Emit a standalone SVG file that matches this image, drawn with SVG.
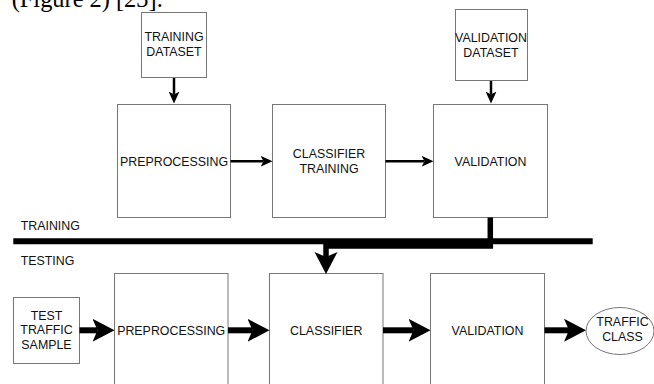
<svg xmlns="http://www.w3.org/2000/svg" width="654" height="384" viewBox="0 0 654 384">
<defs>
<style>
.box{fill:#fff;stroke:#777;stroke-width:1}
.t{font-family:"Liberation Sans",Arial,sans-serif;font-size:12.4px;fill:#111;text-anchor:middle}
.lbl{font-family:"Liberation Sans",Arial,sans-serif;font-size:12.4px;fill:#111}
.thin{fill:none;stroke:#000;stroke-width:2.5}
.thick{fill:none;stroke:#000;stroke-width:6}
</style>
<marker id="ah" markerUnits="userSpaceOnUse" markerWidth="12" markerHeight="11" refX="3" refY="5.5" orient="auto">
<path d="M0,0 L12,5.5 L0,11 L3,5.5 Z" fill="#000"/>
</marker>
<marker id="AH" markerUnits="userSpaceOnUse" markerWidth="22" markerHeight="24" refX="5" refY="12" orient="auto">
<path d="M0,0.5 L22,12 L0,23.5 L5,12 Z" fill="#000"/>
</marker>
</defs>
<rect width="654" height="384" fill="#fff"/>
<text x="11.7" y="6.5" font-family="'Liberation Serif','Times New Roman',serif" font-size="24.4" fill="#000">(Figure 2) [23].</text>

<g id="training-dataset"><rect class="box" x="141.5" y="12.5" width="65" height="65"/><text class="t" x="174" y="41">TRAINING</text><text class="t" x="174" y="56">DATASET</text></g>
<g id="validation-dataset"><rect class="box" x="455.5" y="9.5" width="72" height="71"/><text class="t" x="491" y="41.5">VALIDATION</text><text class="t" x="491" y="56.5">DATASET</text></g>
<g id="preprocessing-train"><rect class="box" x="117.5" y="104.5" width="113" height="113"/><text class="t" x="174" y="165.5">PREPROCESSING</text></g>
<g id="classifier-training"><rect class="box" x="272.5" y="104.5" width="113" height="113"/><text class="t" x="329" y="158.3">CLASSIFIER</text><text class="t" x="329" y="172.9">TRAINING</text></g>
<g id="validation-train"><rect class="box" x="433.5" y="104.5" width="114" height="113"/><text class="t" x="490.5" y="165.5">VALIDATION</text></g>

<g id="section-labels"><text class="lbl" x="20.7" y="230">TRAINING</text><text class="lbl" x="20.7" y="265">TESTING</text></g>
<g id="divider"><line x1="13.3" y1="241.3" x2="592.7" y2="241.3" stroke="#000" stroke-width="6"/></g>

<g id="test-traffic-sample"><rect class="box" x="13.5" y="297.5" width="66" height="66"/><text class="t" x="46.5" y="319.5">TEST</text><text class="t" x="46.5" y="334.3">TRAFFIC</text><text class="t" x="46.5" y="349.1">SAMPLE</text></g>
<g id="preprocessing-test"><rect class="box" x="114.5" y="273.5" width="113.5" height="130"/><text class="t" x="171.2" y="335">PREPROCESSING</text></g>
<g id="classifier"><rect class="box" x="269.5" y="273.5" width="113.5" height="130"/><text class="t" x="326.2" y="335">CLASSIFIER</text></g>
<g id="validation-test"><rect class="box" x="430.5" y="273.5" width="114" height="130"/><text class="t" x="487.5" y="335">VALIDATION</text></g>
<g id="traffic-class"><ellipse cx="620" cy="331" rx="34" ry="23.5" fill="#fff" stroke="#777" stroke-width="1"/><text class="t" x="622.5" y="326">TRAFFIC</text><text class="t" x="622.5" y="341">CLASS</text></g>

<g id="connectors">
<line class="thin" x1="174" y1="78" x2="174" y2="94.5" marker-end="url(#ah)"/>
<line class="thin" x1="491" y1="81" x2="491" y2="94.5" marker-end="url(#ah)"/>
<line class="thin" x1="230.5" y1="161.3" x2="263.5" y2="161.3" marker-end="url(#ah)"/>
<line class="thin" x1="385.5" y1="161.3" x2="424.5" y2="161.3" marker-end="url(#ah)"/>
<path d="M490.3,217.5 V246 H326 V257" fill="none" stroke="#000" stroke-width="5.5" marker-end="url(#AH)"/>
<line class="thick" x1="79.5" y1="330.3" x2="97.5" y2="330.3" marker-end="url(#AH)"/>
<line class="thick" x1="228" y1="330.3" x2="252.5" y2="330.3" marker-end="url(#AH)"/>
<line class="thick" x1="383" y1="330.3" x2="413.5" y2="330.3" marker-end="url(#AH)"/>
<line class="thick" x1="544.5" y1="330.3" x2="569" y2="330.3" marker-end="url(#AH)"/>
</g>
</svg>
